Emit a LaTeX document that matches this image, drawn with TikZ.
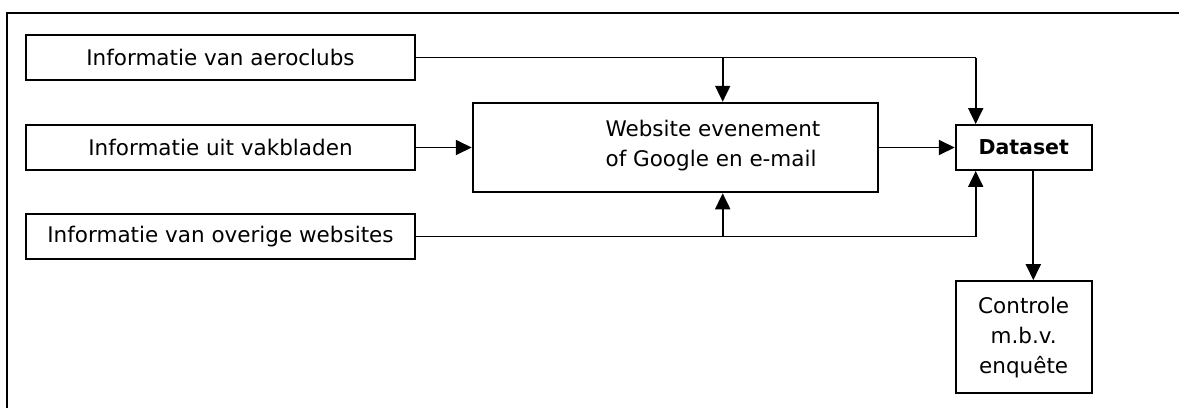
\documentclass[tikz,border=0pt]{standalone}
\usepackage{fontspec}
\setmainfont{DejaVu Sans}
\usetikzlibrary{arrows.meta}
\begin{document}
\begin{tikzpicture}[x=1bp,y=-1bp,
  every node/.style={font=\fontsize{21.5bp}{30bp}\selectfont},
  box/.style={draw, line width=1.9bp, inner sep=0pt},
  conn/.style={line width=1.9bp},
  arr/.style={line width=1.9bp, -{Triangle[length=16bp,width=15bp]}}]
\useasboundingbox (0,0) rectangle (1179,408);
\draw[line width=1.9bp] (7,408) -- (7,13) -- (1179,13);
% source boxes
\node[box, minimum width=389bp, minimum height=45bp] (a1) at (220.5,57.5) {Informatie van aeroclubs};
\node[box, minimum width=389bp, minimum height=45bp] (a2) at (220.5,147.5) {Informatie uit vakbladen};
\node[box, minimum width=389bp, minimum height=45bp] (a3) at (220.5,236.5) {Informatie van overige websites};
% website box
\node[box, minimum width=405bp, minimum height=89.6bp] (web) at (675.2,147.5) {};
\node[align=left, inner sep=0pt] (webtxt) at (713,146) {Website evenement\\of Google en e-mail};
% dataset
\node[box, minimum width=136bp, minimum height=45bp, font=\fontsize{20.5bp}{30bp}\selectfont\bfseries] (ds) at (1023.7,147.5) {Dataset};
% controle
\node[box, minimum width=136bp, minimum height=112.3bp, align=center] (ctl) at (1023.7,337.2) {Controle\\m.b.v.\\enquête};
% junctions
\coordinate (j1) at (975.7,57.5);
\coordinate (b1) at (722.7,57.5);
\coordinate (j3) at (975.7,236.5);
\coordinate (b3) at (722.7,236.5);
\coordinate (dso) at (1033.3,170);
% connectors
\draw[conn] (a1.east) -- (j1);
\draw[arr] (j1) -- (j1 |- ds.north);
\draw[arr] (b1) -- (b1 |- web.north);
\draw[arr] (a2.east) -- (web.west);
\draw[arr] (web.east) -- (ds.west);
\draw[conn] (a3.east) -- (j3);
\draw[arr] (j3) -- (j3 |- ds.south);
\draw[arr] (b3) -- (b3 |- web.south);
\draw[arr] (dso) -- (dso |- ctl.north);
\end{tikzpicture}
\end{document}
